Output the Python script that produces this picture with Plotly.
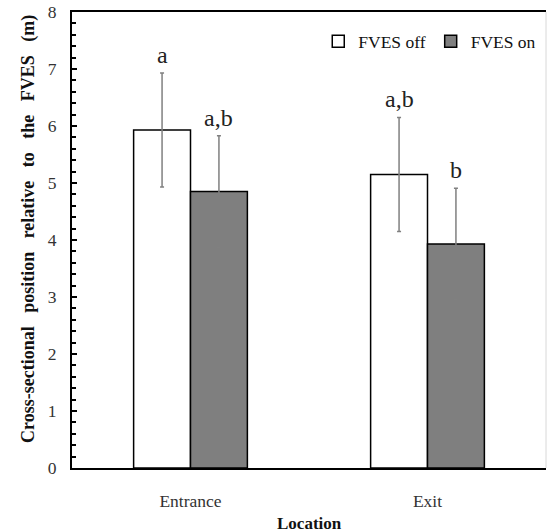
import plotly.graph_objects as go

locations = ["Entrance", "Exit"]
series_names = ["FVES off", "FVES on"]
fves_off = [5.93, 5.15]
fves_off_err = [1.0, 1.0]
fves_on = [4.85, 3.93]
fves_on_err = [0.98, 0.98]
letters_off = ["a", "a,b"]
letters_on = ["a,b", "b"]
y_ticks = [0, 1, 2, 3, 4, 5, 6, 7, 8]
y_title = "Cross-sectional position relative to the FVES (m)"
x_title = "Location"

FONT = "Liberation Serif"

fig = go.Figure()
fig.add_trace(go.Bar(
    name=series_names[0], x=locations, y=fves_off,
    marker=dict(color="white", line=dict(color="black", width=1.5)),
    error_y=dict(type="data", array=fves_off_err, color="#808080", thickness=1.5, width=2),
))
fig.add_trace(go.Bar(
    name=series_names[1], x=locations, y=fves_on,
    marker=dict(color="#7f7f7f", line=dict(color="black", width=1.5)),
    error_y=dict(type="data", array=fves_on_err, color="#808080", thickness=1.5, width=2),
))

bar_off = 0.12
for i, loc in enumerate(locations):
    fig.add_annotation(x=i - bar_off, y=fves_off[i] + fves_off_err[i], text=letters_off[i],
                       showarrow=False, yanchor="bottom", yshift=3,
                       font=dict(family=FONT, size=24, color="#222"))
    fig.add_annotation(x=i + bar_off, y=fves_on[i] + fves_on_err[i], text=letters_on[i],
                       showarrow=False, yanchor="bottom", yshift=3,
                       font=dict(family=FONT, size=24, color="#222"))

# axis titles
fig.add_annotation(xref="paper", yref="paper", x=0, y=0.5, xshift=-44, yshift=11, textangle=-90,
                   xanchor="center", yanchor="middle",
                   text="<b>" + y_title.replace(" ", " &nbsp;&nbsp;") + "</b>",
                   showarrow=False, font=dict(family=FONT, size=18, color="#111"))
fig.add_annotation(xref="paper", yref="paper", x=0.5, y=0, yshift=-55,
                   xanchor="center", yanchor="middle",
                   text="<b>" + x_title + "</b>",
                   showarrow=False, font=dict(family=FONT, size=17, color="#111"))

fig.add_shape(type="line", xref="paper", yref="paper", x0=1, x1=1, y0=0, y1=1,
              line=dict(color="#d8d8d8", width=1))

fig.update_layout(
    width=548, height=532,
    margin=dict(l=72, r=2, t=12, b=64),
    paper_bgcolor="white", plot_bgcolor="white",
    barmode="group", bargap=0.52, bargroupgap=0,
    font=dict(family=FONT, size=17, color="#222"),
    legend=dict(orientation="h", x=0.99, xanchor="right", y=0.975, yanchor="top",
                font=dict(family=FONT, size=17.5, color="#111"),
                itemwidth=30, tracegroupgap=0, bgcolor="rgba(0,0,0,0)"),
    showlegend=True,
    xaxis=dict(
        showline=True, linecolor="black", linewidth=2, mirror=True,
        ticks="", ticklabelstandoff=16, automargin=False,
        tickfont=dict(family=FONT, size=17.5, color="#333"),
    ),
    yaxis=dict(
        range=[0, 8], tickvals=y_ticks, ticktext=[str(v) for v in y_ticks],
        showline=True, linecolor="black", linewidth=2,
        showgrid=False, zeroline=False, automargin=False,
        ticks="inside", ticklen=5, tickwidth=1.5, tickcolor="black",
        minor=dict(dtick=0.2, ticks="inside", ticklen=4, tickwidth=1.5, tickcolor="black"),
        ticklabelstandoff=10,
        tickfont=dict(family=FONT, size=17.5, color="#333"),
    ),
)

fig.write_html("out.html", config={"displayModeBar": False},
               post_script="document.body.style.margin='0';document.body.style.overflow='hidden';")
